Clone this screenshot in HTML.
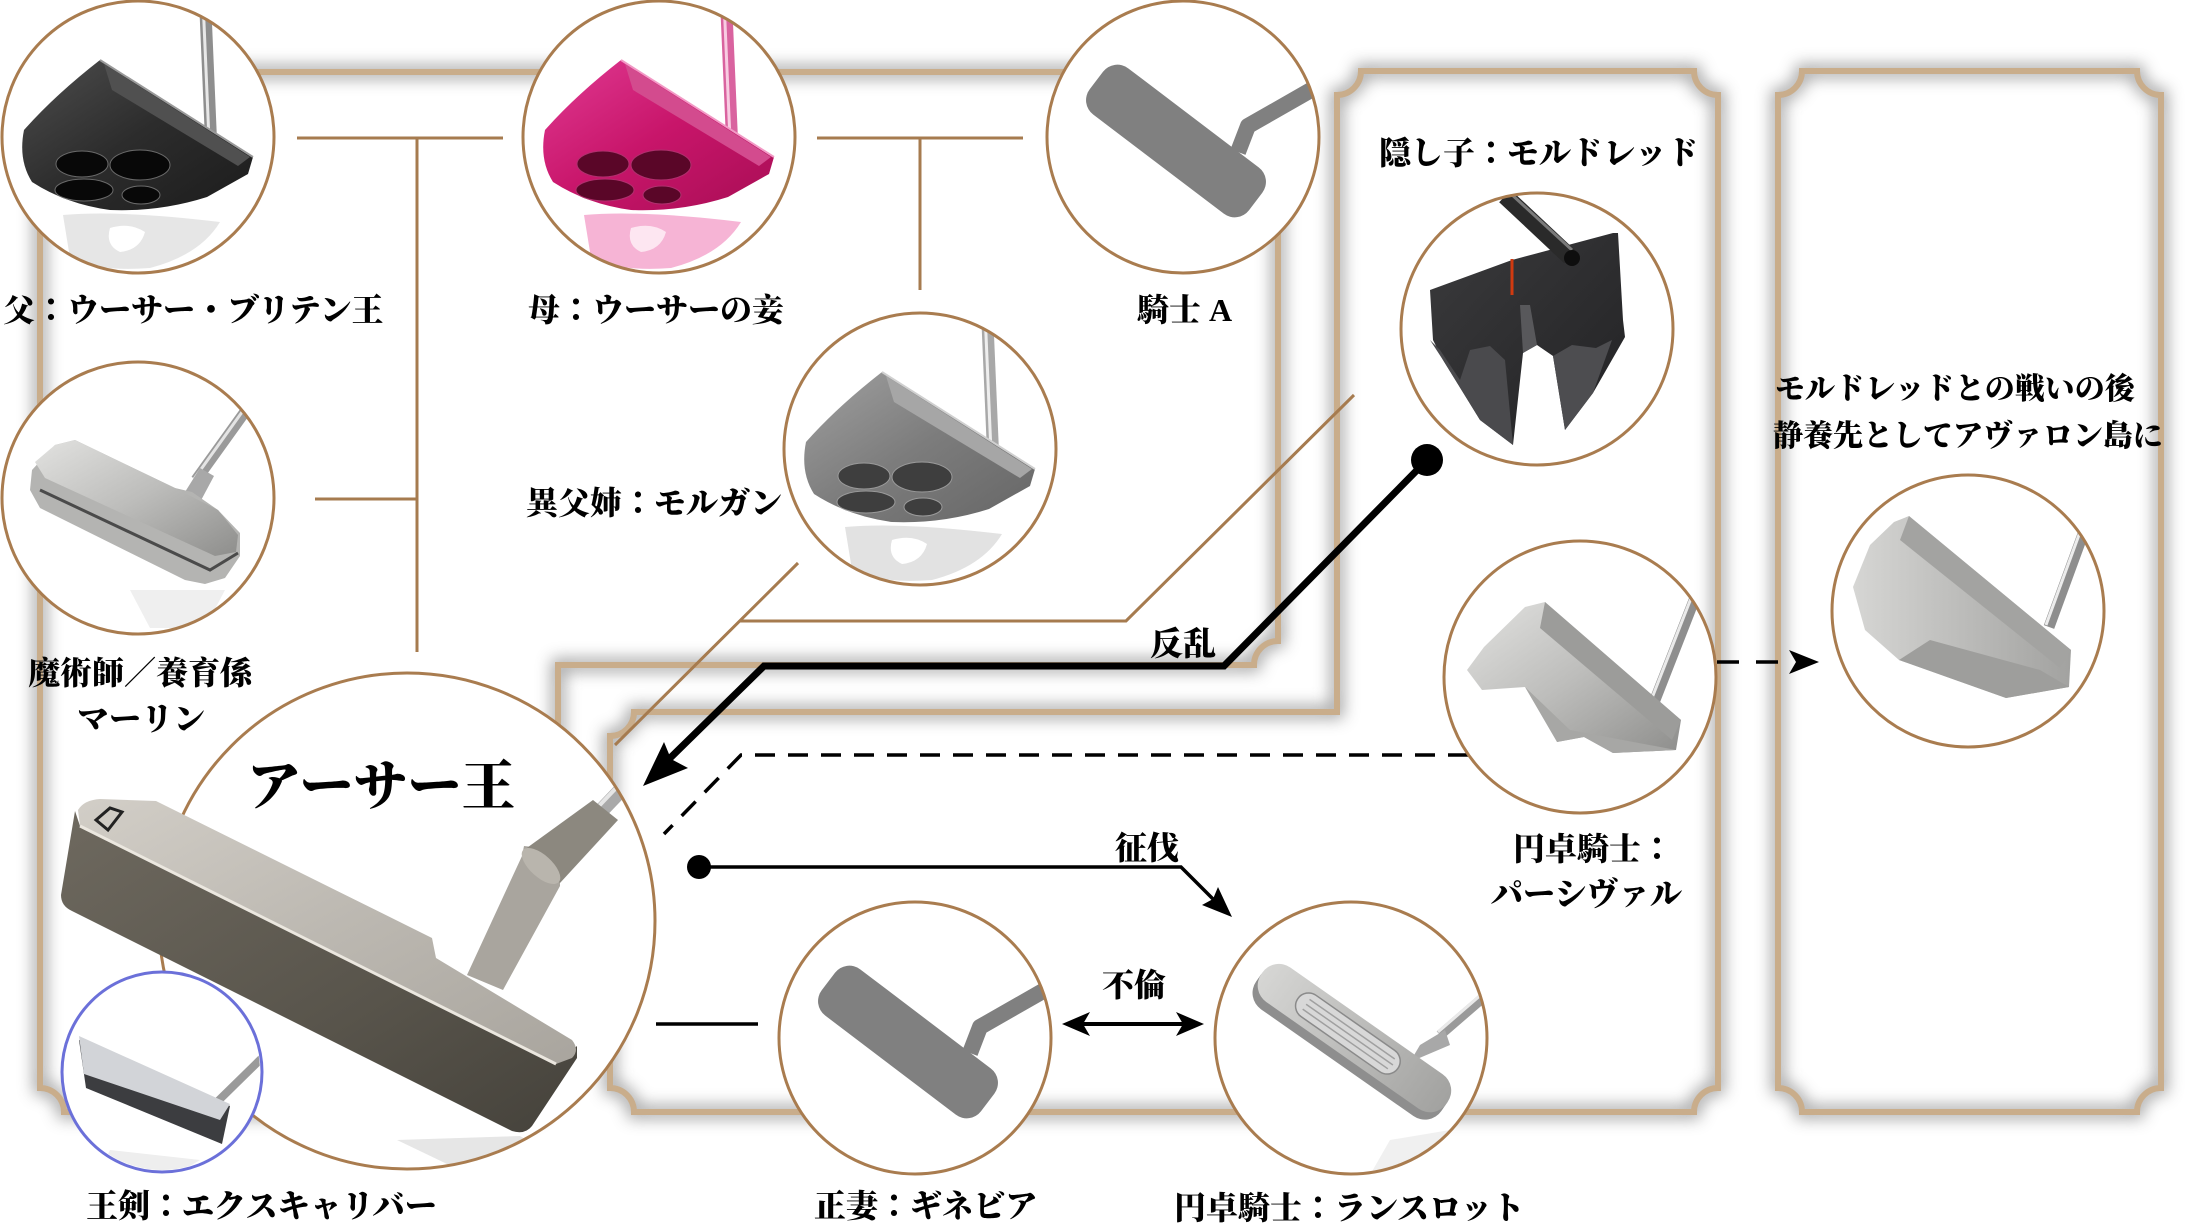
<!DOCTYPE html>
<html><head><meta charset="utf-8">
<style>
html,body{margin:0;padding:0;background:#fff;}
svg{display:block;}
.t{font-family:"Liberation Serif","Noto Serif CJK SC","Noto Sans CJK JP",serif;font-weight:900;fill:#000;}
.c{font-family:"Noto Sans CJK JP","Noto Serif CJK SC",sans-serif;font-weight:700;}
</style></head><body>
<svg width="2186" height="1228" viewBox="0 0 2186 1228" xmlns="http://www.w3.org/2000/svg">
<defs>
<filter id="blur" x="-10%" y="-10%" width="120%" height="120%"><feGaussianBlur stdDeviation="8"/></filter>
<linearGradient id="gBlack" x1="0" y1="0" x2="1" y2="1"><stop offset="0" stop-color="#4e4e4e"/><stop offset="0.5" stop-color="#2c2c2c"/><stop offset="1" stop-color="#1c1c1c"/></linearGradient>
<linearGradient id="gPink" x1="0" y1="0" x2="1" y2="1"><stop offset="0" stop-color="#e03a92"/><stop offset="0.5" stop-color="#c8156a"/><stop offset="1" stop-color="#a80e55"/></linearGradient>
<linearGradient id="gGray" x1="0" y1="0" x2="1" y2="1"><stop offset="0" stop-color="#a0a0a0"/><stop offset="0.5" stop-color="#7c7c7c"/><stop offset="1" stop-color="#666"/></linearGradient>
<linearGradient id="gSilver" x1="0" y1="0" x2="1" y2="1"><stop offset="0" stop-color="#e2e2e0"/><stop offset="0.5" stop-color="#bdbdbb"/><stop offset="1" stop-color="#8e8e8c"/></linearGradient>
<linearGradient id="gSilver2" x1="0" y1="0" x2="1" y2="0"><stop offset="0" stop-color="#d6d6d4"/><stop offset="1" stop-color="#a2a2a0"/></linearGradient>
<linearGradient id="gBronze" x1="0" y1="0" x2="1" y2="1"><stop offset="0" stop-color="#6e695f"/><stop offset="0.6" stop-color="#58544b"/><stop offset="1" stop-color="#45423b"/></linearGradient>
<linearGradient id="gFace" x1="0" y1="0" x2="1" y2="1"><stop offset="0" stop-color="#d2cec7"/><stop offset="0.5" stop-color="#bcb8b1"/><stop offset="1" stop-color="#a9a59e"/></linearGradient>
<linearGradient id="gMord" x1="0" y1="0" x2="1" y2="1"><stop offset="0" stop-color="#3a3a3c"/><stop offset="1" stop-color="#222224"/></linearGradient>
<clipPath id="cp1"><circle cx="138" cy="137" r="135"/></clipPath>
<clipPath id="cp2"><circle cx="659" cy="137" r="135"/></clipPath>
<clipPath id="cp3"><circle cx="1183" cy="137" r="135"/></clipPath>
<clipPath id="cp4"><circle cx="138" cy="498" r="135"/></clipPath>
<clipPath id="cp5"><circle cx="920" cy="449" r="135"/></clipPath>
<clipPath id="cp6"><circle cx="1537" cy="329" r="135"/></clipPath>
<clipPath id="cp7"><circle cx="1580" cy="677" r="135"/></clipPath>
<clipPath id="cp8"><circle cx="1968" cy="611" r="135"/></clipPath>
<clipPath id="cp9"><circle cx="407" cy="921" r="247"/></clipPath>
<clipPath id="cp10"><circle cx="162" cy="1072" r="98"/></clipPath>
<clipPath id="cp11"><circle cx="915" cy="1038" r="135"/></clipPath>
<clipPath id="cp12"><circle cx="1351" cy="1038" r="135"/></clipPath>
</defs>
<rect width="2186" height="1228" fill="#fff"/>

<!-- frames shadow -->
<g fill="none" stroke="#7a7a7a" stroke-width="12" opacity="0.75" filter="url(#blur)">
<path d="M64 72 H1254 A24 24 0 0 0 1278 96 V641 A24 24 0 0 0 1254 665 H558 V1088 A24 24 0 0 0 534 1112 H64 A24 24 0 0 0 40 1088 V96 A24 24 0 0 0 64 72 Z"/>
<path d="M1361 71 H1694 A24 24 0 0 0 1718 95 V1088 A24 24 0 0 0 1694 1112 H634 A24 24 0 0 0 610 1088 V736 A24 24 0 0 0 634 712 H1337 V95 A24 24 0 0 0 1361 71 Z"/>
<path d="M1802 71 H2137 A24 24 0 0 0 2161 95 V1088 A24 24 0 0 0 2137 1112 H1802 A24 24 0 0 0 1778 1088 V95 A24 24 0 0 0 1802 71 Z"/>
</g>
<g fill="none" stroke="#c9ad8b" stroke-width="6">
<path d="M64 72 H1254 A24 24 0 0 0 1278 96 V641 A24 24 0 0 0 1254 665 H558 V1088 A24 24 0 0 0 534 1112 H64 A24 24 0 0 0 40 1088 V96 A24 24 0 0 0 64 72 Z"/>
<path d="M1361 71 H1694 A24 24 0 0 0 1718 95 V1088 A24 24 0 0 0 1694 1112 H634 A24 24 0 0 0 610 1088 V736 A24 24 0 0 0 634 712 H1337 V95 A24 24 0 0 0 1361 71 Z"/>
<path d="M1802 71 H2137 A24 24 0 0 0 2161 95 V1088 A24 24 0 0 0 2137 1112 H1802 A24 24 0 0 0 1778 1088 V95 A24 24 0 0 0 1802 71 Z"/>
</g>

<!-- brown connectors -->
<g fill="none" stroke="#a67b4f" stroke-width="3">
<path d="M297 138 H503"/>
<path d="M417 138 V652"/>
<path d="M315 499 H417"/>
<path d="M817 138 H1023"/>
<path d="M920 138 V290"/>
<path d="M798 563 L615 745"/>
<path d="M1354 395 L1126 621 H740"/>
</g>

<!-- black connectors -->
<g fill="none" stroke="#000">
<path d="M1427 460 L1224 666 H764 L662 766" stroke-width="7"/>
<path d="M699 867 H1181 L1214 900" stroke-width="3.5"/>
<path d="M1074 1024 H1192" stroke-width="4"/>
<path d="M656 1024 H758" stroke-width="3.5"/>
<path d="M1468 755 H741 L664 834" stroke-width="3.5" stroke-dasharray="20 13"/>
<path d="M1717 662 H1785" stroke-width="3.5" stroke-dasharray="22 17"/>
</g>
<g fill="#000">
<circle cx="1427" cy="460" r="16"/>
<circle cx="699" cy="867" r="12"/>
<polygon points="643,786 688,768 671,759 664,742"/>
<polygon points="1232,917 1202,905 1213,899 1218,887"/>
<polygon points="1062,1024 1090,1012 1083,1024 1090,1036"/>
<polygon points="1204,1024 1176,1012 1183,1024 1176,1036"/>
<polygon points="1819,662 1789,650 1796,662 1789,674"/>
</g>

<!-- Circle 1: father -->
<circle cx="138" cy="137" r="136" fill="#fff"/>
<g clip-path="url(#cp1)">
<path d="M63 215 Q120 210 220 222 Q200 255 150 268 Q100 272 70 258 Z" fill="#e6e6e6"/>
<path d="M110 228 Q130 222 145 232 Q140 250 120 252 Q105 245 110 228 Z" fill="#fff"/>
<line x1="205" y1="0" x2="211" y2="140" stroke="#8e8e8e" stroke-width="12"/>
<line x1="203" y1="0" x2="209" y2="140" stroke="#e8e8e8" stroke-width="3"/>
<path d="M100 60 L253 157 L248 174 L207 197 Q160 212 110 210 Q66 204 32 182 Q18 160 24 130 Q55 95 100 60 Z" fill="url(#gBlack)"/>
<path d="M104 64 L250 157 L238 166 L112 90 Z" fill="#505050"/>
<line x1="100" y1="60" x2="253" y2="157" stroke="#9a9a9a" stroke-width="2"/>
<g fill="#080808" stroke="#6a6a6a" stroke-width="1">
<ellipse cx="82" cy="164" rx="26" ry="13"/><ellipse cx="140" cy="165" rx="30" ry="15"/>
<ellipse cx="84" cy="190" rx="29" ry="11"/><ellipse cx="141" cy="195" rx="19" ry="9"/>
</g>
</g>
<circle cx="138" cy="137" r="136" fill="none" stroke="#a97c4f" stroke-width="3"/>

<!-- Circle 2: mother -->
<circle cx="659" cy="137" r="136" fill="#fff"/>
<g clip-path="url(#cp2)"><g transform="translate(521 0)">
<path d="M63 215 Q120 210 220 222 Q200 255 150 268 Q100 272 70 258 Z" fill="#f6b4d5"/>
<path d="M110 228 Q130 222 145 232 Q140 250 120 252 Q105 245 110 228 Z" fill="#fde6f1"/>
<line x1="205" y1="0" x2="211" y2="140" stroke="#d9639f" stroke-width="12"/>
<line x1="203" y1="0" x2="209" y2="140" stroke="#f8cce2" stroke-width="3"/>
<path d="M100 60 L253 157 L248 174 L207 197 Q160 212 110 210 Q66 204 32 182 Q18 160 24 130 Q55 95 100 60 Z" fill="url(#gPink)"/>
<path d="M104 64 L250 157 L238 166 L112 90 Z" fill="#d34b8e"/>
<line x1="100" y1="60" x2="253" y2="157" stroke="#f29ac6" stroke-width="2"/>
<g fill="#5a0628" stroke="#b0306e" stroke-width="1">
<ellipse cx="82" cy="164" rx="26" ry="13"/><ellipse cx="140" cy="165" rx="30" ry="15"/>
<ellipse cx="84" cy="190" rx="29" ry="11"/><ellipse cx="141" cy="195" rx="19" ry="9"/>
</g>
</g></g>
<circle cx="659" cy="137" r="136" fill="none" stroke="#a97c4f" stroke-width="3"/>

<!-- Circle 3: knight A -->
<circle cx="1183" cy="137" r="136" fill="#fff"/>
<g clip-path="url(#cp3)" fill="#808080">
<rect x="1076" y="112" width="200" height="58" rx="18" transform="rotate(37.2 1176 141)"/>
<path d="M1238 152 L1248 126 L1325 82" fill="none" stroke="#808080" stroke-width="16" stroke-linejoin="round"/>
</g>
<circle cx="1183" cy="137" r="136" fill="none" stroke="#a97c4f" stroke-width="3"/>

<!-- Circle 4: Merlin -->
<circle cx="138" cy="498" r="136" fill="#fff"/>
<g clip-path="url(#cp4)">
<path d="M130 590 L225 590 L205 628 L150 628 Z" fill="#efefef"/>
<line x1="196" y1="480" x2="252" y2="402" stroke="#9a9a9a" stroke-width="11"/>
<line x1="194" y1="479" x2="250" y2="401" stroke="#e4e4e4" stroke-width="3"/>
<path d="M180 500 L200 468 L214 476 L198 506 Z" fill="#a8a8a8"/>
<path d="M55 445 L75 440 L175 488 L192 492 L218 510 L240 533 L240 556 L225 578 L205 584 L185 580 L40 508 L30 490 L32 470 Z" fill="#b4b4b2"/>
<path d="M55 445 L75 440 L175 488 L218 510 L238 535 L236 552 L215 556 L45 478 L35 462 Z" fill="url(#gSilver)"/>
<path d="M40 490 L210 570 L238 553" fill="none" stroke="#4a4a4a" stroke-width="3"/>
</g>
<circle cx="138" cy="498" r="136" fill="none" stroke="#a97c4f" stroke-width="3"/>

<!-- Circle 5: Morgan -->
<circle cx="920" cy="449" r="136" fill="#fff"/>
<g clip-path="url(#cp5)"><g transform="translate(782 312)">
<path d="M63 215 Q120 210 220 222 Q200 255 150 268 Q100 272 70 258 Z" fill="#e2e2e2"/>
<path d="M110 228 Q130 222 145 232 Q140 250 120 252 Q105 245 110 228 Z" fill="#fff"/>
<line x1="205" y1="0" x2="211" y2="140" stroke="#a8a8a8" stroke-width="12"/>
<line x1="203" y1="0" x2="209" y2="140" stroke="#eee" stroke-width="3"/>
<path d="M100 60 L253 157 L248 174 L207 197 Q160 212 110 210 Q66 204 32 182 Q18 160 24 130 Q55 95 100 60 Z" fill="url(#gGray)"/>
<path d="M104 64 L250 157 L238 166 L112 90 Z" fill="#a6a6a6"/>
<line x1="100" y1="60" x2="253" y2="157" stroke="#d0d0d0" stroke-width="2"/>
<g fill="#3e3e3e" stroke="#9a9a9a" stroke-width="1">
<ellipse cx="82" cy="164" rx="26" ry="13"/><ellipse cx="140" cy="165" rx="30" ry="15"/>
<ellipse cx="84" cy="190" rx="29" ry="11"/><ellipse cx="141" cy="195" rx="19" ry="9"/>
</g>
</g></g>
<circle cx="920" cy="449" r="136" fill="none" stroke="#a97c4f" stroke-width="3"/>

<!-- Circle 6: Mordred -->
<circle cx="1537" cy="329" r="136" fill="#fff"/>
<g clip-path="url(#cp6)">
<path d="M1430 290 L1512 260 L1613 233 L1618 233 L1623 320 L1625 337 L1593 393 L1565 430 L1553 356 L1537 345 L1523 353 L1513 445 L1480 420 L1443 360 L1433 340 Z" fill="url(#gMord)"/>
<path d="M1430 340 L1443 360 L1480 420 L1513 445 L1505 360 L1490 346 L1470 350 L1460 380 L1440 350 Z" fill="#4a4a4d"/>
<path d="M1553 356 L1565 430 L1593 393 L1612 340 L1596 348 L1572 345 Z" fill="#4d4d50"/>
<path d="M1520 305 L1530 305 L1537 345 L1523 353 Z" fill="#58585b"/>
<line x1="1505" y1="196" x2="1570" y2="257" stroke="#2a2a2a" stroke-width="17"/>
<line x1="1510" y1="193" x2="1572" y2="250" stroke="#7a7a7a" stroke-width="3"/>
<circle cx="1572" cy="258" r="8" fill="#0e0e0e"/>
<line x1="1512" y1="259" x2="1512" y2="295" stroke="#d03a10" stroke-width="3"/>
</g>
<circle cx="1537" cy="329" r="136" fill="none" stroke="#a97c4f" stroke-width="3"/>

<!-- Circle 7: Percival -->
<circle cx="1580" cy="677" r="136" fill="#fff"/>
<g clip-path="url(#cp7)">
<line x1="1655" y1="700" x2="1700" y2="585" stroke="#8e8e8e" stroke-width="11"/>
<line x1="1652" y1="698" x2="1697" y2="583" stroke="#eaeaea" stroke-width="3"/>
<path d="M1525 607 L1545 602 L1681 720 L1676 750 L1613 753 L1584 737 L1557 742 L1559 733 L1525 687 L1482 690 L1467 670 L1484 647 Z" fill="url(#gSilver)"/>
<path d="M1545 602 L1681 720 L1672 740 L1540 628 Z" fill="#9c9c9a"/>
<path d="M1525 687 L1570 730 L1676 750 L1613 753 L1584 737 L1557 742 Z" fill="#a7a7a5"/>
</g>
<circle cx="1580" cy="677" r="136" fill="none" stroke="#a97c4f" stroke-width="3"/>

<!-- Circle 8: Avalon -->
<circle cx="1968" cy="611" r="136" fill="#fff"/>
<g clip-path="url(#cp8)">
<line x1="2049" y1="627" x2="2090" y2="515" stroke="#8e8e8e" stroke-width="11"/>
<line x1="2046" y1="625" x2="2087" y2="513" stroke="#ececec" stroke-width="3"/>
<path d="M1894 522 L1909 516 L2071 650 L2069 687 L2006 698 L1899 660 L1865 630 L1853 587 L1870 545 Z" fill="url(#gSilver2)"/>
<path d="M1909 516 L2071 650 L2060 668 L1900 540 Z" fill="#a3a3a1"/>
<path d="M1899 660 L1930 640 L2040 670 L2069 687 L2006 698 Z" fill="#9e9e9c"/>
</g>
<circle cx="1968" cy="611" r="136" fill="none" stroke="#a97c4f" stroke-width="3"/>

<!-- Circle 11: Guinevere -->
<circle cx="915" cy="1038" r="136" fill="#fff"/>
<g clip-path="url(#cp11)"><g transform="translate(-268 901)">
<rect x="1076" y="112" width="200" height="58" rx="18" transform="rotate(37.2 1176 141)" fill="#808080"/>
<path d="M1238 152 L1248 126 L1325 82" fill="none" stroke="#808080" stroke-width="16" stroke-linejoin="round"/>
</g></g>
<circle cx="915" cy="1038" r="136" fill="none" stroke="#a97c4f" stroke-width="3"/>

<!-- Circle 12: Lancelot -->
<circle cx="1351" cy="1038" r="136" fill="#fff"/>
<g clip-path="url(#cp12)">
<path d="M1390 1140 L1450 1130 L1430 1175 L1370 1175 Z" fill="#f0f0f0"/>
<line x1="1440" y1="1035" x2="1492" y2="990" stroke="#9a9a9a" stroke-width="10"/>
<line x1="1438" y1="1032" x2="1490" y2="987" stroke="#eaeaea" stroke-width="3"/>
<path d="M1410 1062 L1420 1045 L1445 1030 L1450 1045 Z" fill="#a8a8a8"/>
<g transform="rotate(35 1351 1043)">
<rect x="1238" y="1019" width="226" height="48" rx="20" fill="#8e8e8e"/>
<rect x="1238" y="1016" width="226" height="42" rx="20" fill="url(#gSilver2)"/>
<rect x="1282" y="1024" width="122" height="26" rx="13" fill="#d8d8d8" stroke="#8a8a8a" stroke-width="1.5"/>
<path d="M1292 1031 H1396 M1292 1037 H1398 M1292 1043 H1396" stroke="#a0a0a0" stroke-width="1.5"/>
</g>
</g>
<circle cx="1351" cy="1038" r="136" fill="none" stroke="#a97c4f" stroke-width="3"/>

<!-- Circle 9: Arthur -->
<circle cx="407" cy="921" r="248" fill="#fff"/>
<g clip-path="url(#cp9)">
<path d="M397 1140 L520 1136 L560 1160 L470 1175 Z" fill="#e6e6e6"/>
<line x1="600" y1="812" x2="640" y2="770" stroke="#a9a9a9" stroke-width="15"/>
<line x1="597" y1="808" x2="637" y2="766" stroke="#e6e6e6" stroke-width="4"/>
</g>
<circle cx="407" cy="921" r="248" fill="none" stroke="#a97c4f" stroke-width="3"/>
<!-- Arthur putter -->
<path d="M467 975 L503 990 L560 886 L560 850 L524 846 L522 856 Z" fill="#a9a59e"/>
<path d="M524 850 L560 883 L618 820 L593 800 Z" fill="#8c887f"/>
<ellipse cx="541" cy="866" rx="24" ry="11" transform="rotate(42 541 866)" fill="#b9b5ad"/>
<path d="M75 811 L61 895 Q61 906 72 911 L512 1131 Q525 1135 532 1126 L577 1058 L577 1046 L556 1064 L80 826 Z" fill="url(#gBronze)"/>
<path d="M78 810 Q84 800 100 799 L156 801 L432 938 L436 958 L572 1040 Q580 1050 572 1058 L556 1064 L80 826 Z" fill="url(#gFace)"/>
<path d="M80 826 L556 1064" stroke="#ebe7df" stroke-width="3"/>
<path d="M96 820 L110 808 L122 812 L108 830 Z" fill="none" stroke="#222" stroke-width="3"/>

<!-- Circle 10: Excalibur -->
<circle cx="162" cy="1072" r="100" fill="#fff"/>
<g clip-path="url(#cp10)">
<line x1="215" y1="1104" x2="265" y2="1055" stroke="#9a9a9a" stroke-width="8"/>
<path d="M79 1040 L230 1106 L222 1144 L86 1088 Z" fill="#3c3d40"/>
<path d="M79 1036 L230 1104 L220 1120 L84 1074 Z" fill="#d2d4d8"/>
<path d="M110 1150 L200 1160 L180 1172 L100 1170 Z" fill="#eee"/>
</g>
<circle cx="162" cy="1072" r="100" fill="none" stroke="#6b70d9" stroke-width="3"/>

<!-- Labels -->
<g class="t" font-size="32">
<text x="3" y="321">父<tspan class="c">：</tspan>ウーサー・ブリテン王</text>
<text x="528" y="321">母<tspan class="c">：</tspan>ウーサーの妾</text>
<text x="1137" y="321">騎士 A</text>
<text x="526" y="514">異父姉<tspan class="c">：</tspan>モルガン</text>
<text x="28" y="684">魔術師／養育係</text>
<text x="77" y="730">マーリン</text>
<text x="86" y="1217">王剣<tspan class="c">：</tspan>エクスキャリバー</text>
<text x="814" y="1217">正妻<tspan class="c">：</tspan>ギネビア</text>
<text x="1174" y="1219">円卓騎士<tspan class="c">：</tspan>ランスロット</text>
<text x="1513" y="860">円卓騎士<tspan class="c">：</tspan></text>
<text x="1491" y="905">パーシヴァル</text>
<text x="1379" y="164">隠し子<tspan class="c">：</tspan>モルドレッド</text>
<text x="1115" y="859">征伐</text>
<text x="1102" y="996">不倫</text>
</g>
<text class="t" x="1150" y="655" font-size="33">反乱</text>
<text class="t" x="1775" y="399" font-size="30">モルドレッドとの戦いの後</text>
<text class="t" x="1773" y="446" font-size="30">静養先としてアヴァロン島に</text>
<text class="t" x="247" y="805" font-size="54">アーサー王</text>
</svg>
</body></html>
